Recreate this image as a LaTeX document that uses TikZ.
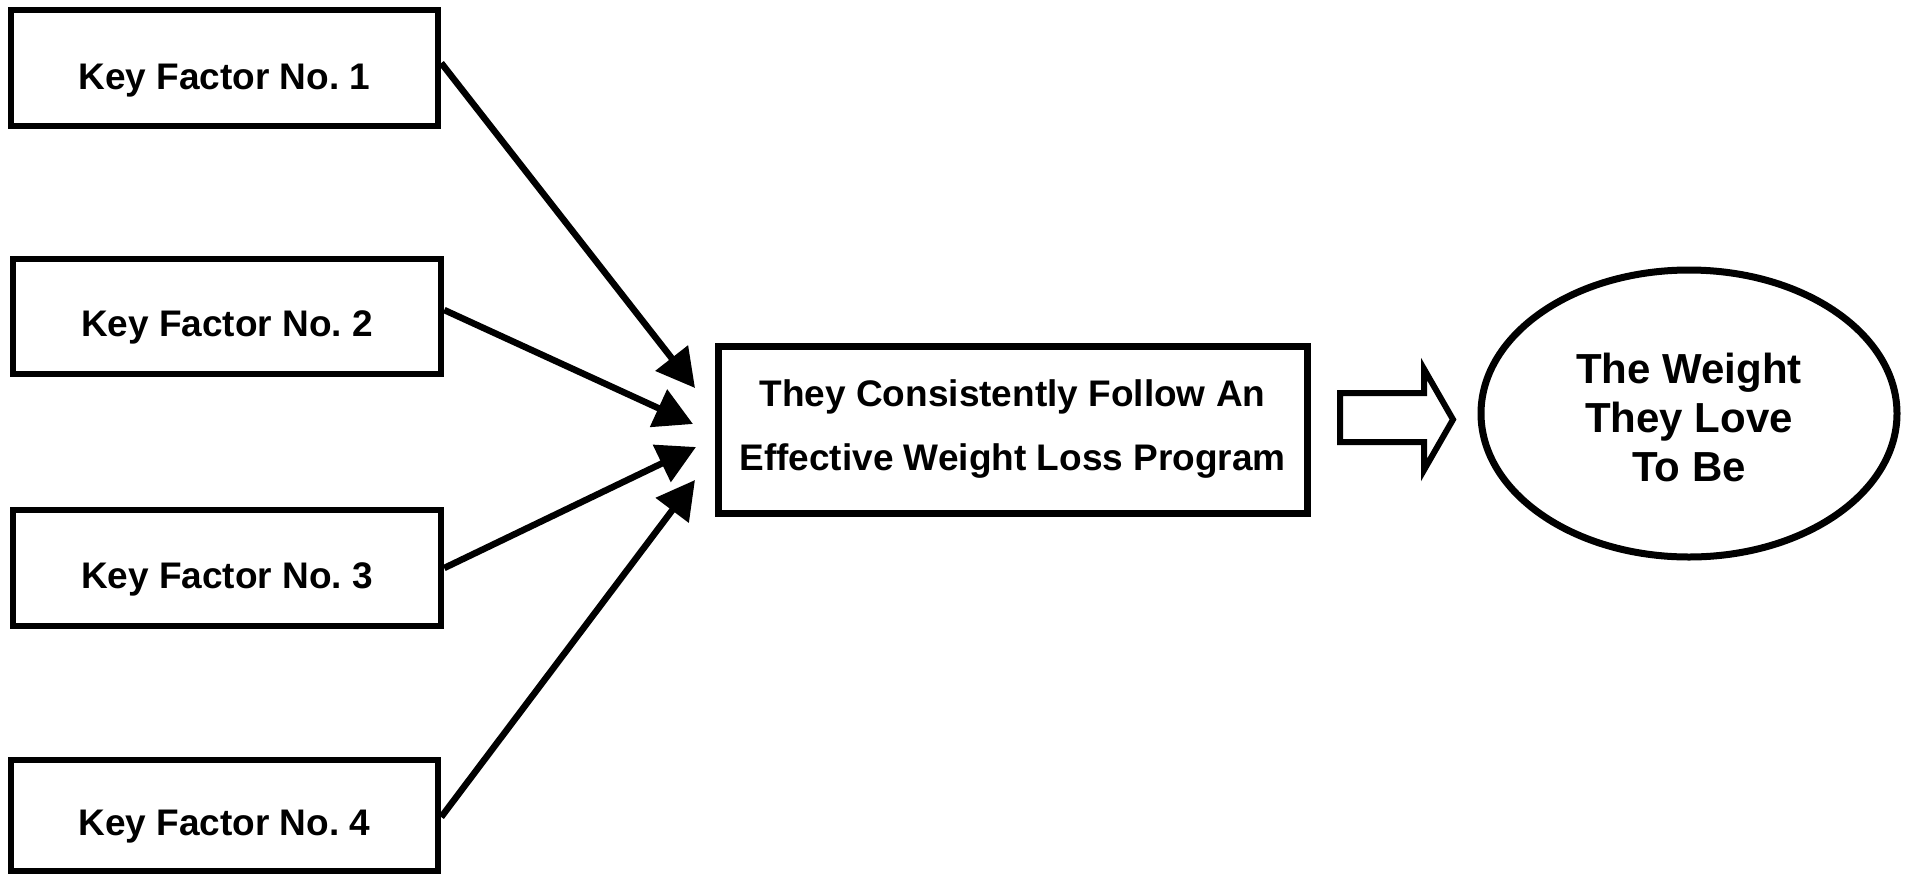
\documentclass[tikz,border=0pt]{standalone}
\usepackage{fontspec}
\setmainfont{Liberation Sans}
\usetikzlibrary{arrows.meta,shapes.geometric}
\frenchspacing
\begin{document}
\begin{tikzpicture}[x=0.5pt,y=-0.5pt,
  factorbox/.style={draw,line width=3.25pt,rectangle,inner sep=0pt,
    minimum width=213.5pt,minimum height=58pt},
  factortext/.style={anchor=base,inner sep=0pt,
    font=\fontsize{18.5}{22}\selectfont\bfseries},
  progbox/.style={draw,line width=3.5pt,rectangle,inner sep=0pt,
    minimum width=294.5pt,minimum height=83.5pt,align=center,
    font=\fontsize{18.5}{32}\selectfont\bfseries},
  goalshape/.style={draw,ellipse,line width=3.5pt,inner sep=0pt,
    minimum width=208pt,minimum height=143.5pt},
  goaltext/.style={inner sep=0pt,align=center,
    font=\fontsize{21}{24.5}\selectfont\bfseries},
  arr/.style={line width=3.25pt,-{Triangle[length=19pt,width=20pt]}},
  blockarrow/.style={draw,line width=3pt,line join=miter,fill=white}]

\useasboundingbox (0,0) rectangle (1912,874);

% the four key factors
\node[factorbox] (k1) at (224.5,68) {};
\node[factortext] (t1) at (224.5,89) {Key Factor No. 1};
\node[factorbox,minimum width=214pt,minimum height=57.5pt] (k2) at (227,316.5) {};
\node[factortext] (t2) at (227,336) {Key Factor No. 2};
\node[factorbox,minimum width=214pt] (k3) at (227,568) {};
\node[factortext] (t3) at (227,588) {Key Factor No. 3};
\node[factorbox,minimum height=55.5pt] (k4) at (224.5,815.5) {};
\node[factortext] (t4) at (224.5,835) {Key Factor No. 4};

% the programme
\node[progbox] (prog) at (1012.5,429.5)
  {They Consistently Follow An\\Effective Weight Loss Program};

% the outcome
\node[goalshape] (goal) at (1689,413.5) {};
\node[goaltext] (goalt) at (1689,417.3) {The Weight\\They Love\\To Be};

% factors feeding the programme
\draw[arr] ([yshift=2.5pt]k1.east) -- ([xshift=-9.75pt,yshift=20.75pt]prog.west);
\draw[arr] ([yshift=3.25pt]k2.east) -- ([xshift=-10.75pt,yshift=2.75pt]prog.west);
\draw[arr] (k3.east) -- ([xshift=-9.25pt,yshift=-8.75pt]prog.west);
\draw[arr] ([yshift=-0.75pt]k4.east) -- ([xshift=-9.75pt,yshift=-25.25pt]prog.west);

% hollow block arrow towards the outcome
\draw[blockarrow] (1340,393) -- (1424,393) -- (1424,369) -- (1453,419.5)
  -- (1424,470) -- (1424,442) -- (1340,442) -- cycle;

\end{tikzpicture}
\end{document}
